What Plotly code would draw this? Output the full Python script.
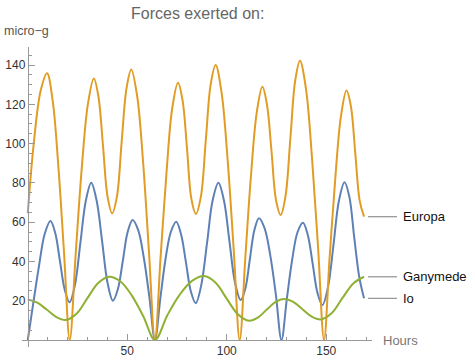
import plotly.graph_objects as go

# ---- data (hours, micro-g) ----
europa_t = [0, 3, 6.5, 9.7, 12.5, 15.4, 18.2, 21.1, 24.1, 27.1, 30.2, 33.2, 35.5, 37.8, 40.1, 42.4,
            44.8, 47.2, 49.6, 52.0, 55.0, 58.0, 60.9, 63.9, 66.8, 69.7, 72.6, 75.5, 77.8, 80.0, 82.2,
            84.5, 87.0, 89.5, 91.9, 94.4, 97.4, 100.5, 103.5, 106.5, 109.4, 112.2, 115.1, 117.9,
            120.2, 122.5, 124.8, 127.1, 129.5, 132.0, 134.4, 136.8, 139.8, 142.9, 145.9, 148.9,
            151.7, 154.6, 157.4, 160.2, 162.4, 164.6, 166.8, 169.0]
europa_v = [64.5, 100, 127, 135.8, 122, 88, 45, 0, 44, 87, 120, 133.2, 124, 99, 73, 64.5,
            73, 101, 128, 137.8, 124, 90, 45, 0, 43, 85, 118, 131.0, 122, 98, 72,
            64.2, 73, 102, 130, 140.0, 126, 91, 46, 0, 43, 84, 116, 129.0,
            120, 96, 71, 63.6, 73, 103, 132, 142.2, 128, 92, 47, 0,
            42, 83, 114, 127.0, 119, 95, 71, 62.8]

io_t = [0, 2.8, 5.7, 8.5, 11.4, 13.8, 16.2, 18.6, 21.0, 23.7, 26.5, 29.2, 31.9, 34.6, 37.4, 40.1,
        42.8, 45.3, 47.8, 50.2, 52.7, 55.5, 58.3, 61.1, 63.9, 66.6, 69.2, 71.9, 74.6, 77.0, 79.5,
        81.9, 84.4, 87.2, 90.1, 92.9, 95.8, 98.6, 101.4, 104.2, 107.0, 109.3, 111.6, 113.9, 116.2,
        119.0, 121.9, 124.7, 127.5, 130.2, 132.9, 135.6, 138.3, 140.7, 143.2, 145.6, 148.1, 150.9,
        153.7, 156.4, 159.2, 161.6, 164.1, 166.6, 169.0]
io_v = [0, 19, 38, 54, 60.6, 54.5, 40, 25.5, 19.2, 28, 50, 71, 80.1, 71, 50, 29,
        20.0, 26, 40.5, 55, 61.1, 56, 42, 22, 0, 21, 41, 55, 60.2, 54, 39.5,
        25, 18.7, 28, 49.4, 71, 80.1, 71, 50, 29, 20.4, 26, 41, 56, 62.0,
        57, 43, 23, 0, 21, 41, 55, 59.7, 53.6, 38.8, 24, 17.8, 27,
        49, 71, 80.3, 73, 52, 32, 21.2]

ganymede_t = [0, 4.8, 9.5, 14.2, 19.0, 24.5, 29.9, 35.4, 40.8, 46.6, 52.4, 58.1, 63.9, 70.1, 76.3,
              82.4, 88.6, 94.3, 99.9, 105.6, 111.2, 115.6, 120.0, 124.4, 128.8, 133.4, 138.0,
              142.6, 147.2, 152.7, 158.1, 163.6, 169.0]
ganymede_v = [20.7, 19, 15.5, 11.8, 10.2, 13.4, 21.2, 29, 32.2, 29.8, 22.5, 12, 0, 12.5, 23,
              30, 32.6, 29.3, 21.2, 13.1, 9.8, 11.4, 15.35, 19.3, 20.9, 19.4, 15.7,
              12, 10.5, 13.6, 21.3, 28.8, 32.2]

series_names = ["Io", "Europa", "Ganymede"]
series_colors = ["#5E81B5", "#E19C24", "#8FB032"]
x_ticks = [50, 100, 150]
y_ticks = [20, 40, 60, 80, 100, 120, 140]

X_RANGE = [-2.9, 173.0]
Y_RANGE = [-3.56, 149.2]

fig = go.Figure()
data = {"Io": (io_t, io_v), "Europa": (europa_t, europa_v), "Ganymede": (ganymede_t, ganymede_v)}
for name, col in zip(series_names, series_colors):
    t, v = data[name]
    fig.add_trace(go.Scatter(x=t, y=v, mode="lines", name=name,
                             line=dict(color=col, width=2, shape="spline", smoothing=1),
                             showlegend=False, hoverinfo="skip"))

axis_col = "#999999"
font_fam = "Arial, Liberation Sans, sans-serif"

def ypaper(v):
    return (v - Y_RANGE[0]) / (Y_RANGE[1] - Y_RANGE[0])

def xpaper(v):
    return (v - X_RANGE[0]) / (X_RANGE[1] - X_RANGE[0])

fig.update_layout(
    width=475, height=362,
    margin=dict(l=22, r=103, t=47, b=15, autoexpand=False),
    paper_bgcolor="white", plot_bgcolor="white",
    font=dict(family=font_fam, size=12, color="#333"),
    xaxis=dict(range=X_RANGE, anchor="free", position=ypaper(0), automargin=False,
               showgrid=False, zeroline=False, showline=True, linecolor=axis_col, linewidth=1,
               ticks="inside", ticklen=6, tickcolor=axis_col, tickwidth=1,
               tickmode="array", tickvals=x_ticks, ticktext=[str(v) for v in x_ticks],
               tickfont=dict(size=12, color="#333"),
               minor=dict(tickmode="array", tickvals=[10, 20, 30, 40, 60, 70, 80, 90, 110, 120, 130, 140, 160, 170],
                          ticks="inside", ticklen=3.5, tickcolor=axis_col, tickwidth=1)),
    yaxis=dict(range=Y_RANGE, anchor="free", position=xpaper(0), automargin=False,
               showgrid=False, zeroline=False, showline=True, linecolor=axis_col, linewidth=1,
               ticks="inside", ticklen=6, tickcolor=axis_col, tickwidth=1,
               tickmode="array", tickvals=y_ticks, ticktext=[str(v) for v in y_ticks],
               tickfont=dict(size=12, color="#333"),
               minor=dict(tickmode="array",
                          tickvals=[5, 10, 15, 25, 30, 35, 45, 50, 55, 65, 70, 75, 85, 90, 95,
                                    105, 110, 115, 125, 130, 135, 145],
                          ticks="inside", ticklen=3.5, tickcolor=axis_col, tickwidth=1)),
)

annotations = [
    dict(text="Forces exerted on:", xref="paper", yref="paper", x=0.5, y=(347 - 13.5) / 300,
         xanchor="center", yanchor="middle", showarrow=False, font=dict(size=16, color="#666")),
    dict(text="micro−g", xref="paper", yref="paper", x=(2 - 22) / 350, y=(347 - 31.5) / 300,
         xanchor="left", yanchor="middle", showarrow=False, font=dict(size=12.5, color="#555")),
    dict(text="Hours", xref="paper", yref="paper", x=(381 - 22) / 350, y=ypaper(0),
         xanchor="left", yanchor="middle", showarrow=False, font=dict(size=13, color="#777")),
]
shapes = []
for name in series_names:
    t, v = data[name]
    yv = v[-1]
    annotations.append(dict(text=name, xref="paper", yref="paper", x=(401 - 22) / 350, y=ypaper(yv),
                            xanchor="left", yanchor="middle", showarrow=False,
                            font=dict(size=13, color="#111")))
    shapes.append(dict(type="line", xref="paper", yref="paper",
                       x0=(368 - 22) / 350, x1=(397 - 22) / 350, y0=ypaper(yv), y1=ypaper(yv),
                       line=dict(color="#999", width=1.3)))

fig.update_layout(annotations=annotations, shapes=shapes)

fig.write_html("out.html", config={"displayModeBar": False},
               post_script="document.body.style.margin='0px';")
